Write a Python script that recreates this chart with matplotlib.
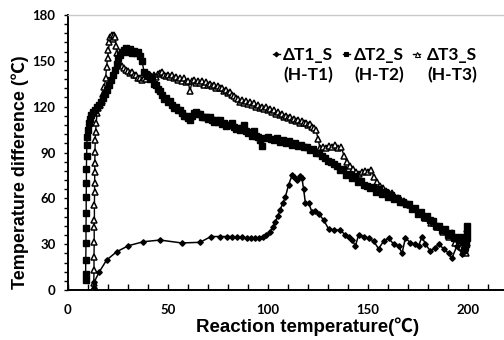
import matplotlib
matplotlib.use("Agg")
import matplotlib.pyplot as plt
from matplotlib.ticker import MultipleLocator
from matplotlib.lines import Line2D

# ---------------- data ----------------
legend_top = ["ΔT1_S", "ΔT2_S", "ΔT3_S"]
legend_bottom = ["(H-T1)", "(H-T2)", "(H-T3)"]
x_label = "Reaction temperature(℃)"
y_label = "Temperature difference (℃)"
x_ticks = [0, 50, 100, 150, 200]
y_ticks = [0, 30, 60, 90, 120, 150, 180]

t1_x = [12.8, 13.2, 15.7, 19.3, 24.3, 30.2, 37.7, 46.0, 56.8, 66.0,
        71.5, 76.0, 79.3, 82.2, 84.7, 87.2, 89.3, 91.3, 93.5, 95.5,
        97.5, 99.0, 101.0, 102.5, 103.7, 105.0, 106.0, 107.5, 108.7, 110.3,
        112.0, 113.2, 114.5, 115.8, 117.0, 117.8, 118.7, 120.3, 122.0, 123.7,
        125.3, 127.8, 130.3, 132.8, 136.0, 138.7, 140.5, 142.0, 143.7, 145.3,
        147.8, 150.3, 152.8, 155.3, 157.8, 160.3, 162.8, 165.3, 167.0, 168.7,
        171.2, 173.7, 175.3, 177.0, 178.7, 181.2, 183.7, 185.3, 187.8, 190.3,
        192.0, 194.5, 197.0, 198.7]
t1_y = [1.0, 5.5, 12.0, 19.6, 25.0, 29.0, 31.6, 32.7, 30.8, 31.2,
        35.0, 35.0, 35.0, 35.0, 34.7, 34.5, 34.0, 34.0, 34.0, 34.2,
        35.0, 36.0, 38.0, 41.0, 44.7, 48.5, 52.4, 57.0, 61.0, 68.8,
        75.0, 74.0, 72.0, 74.5, 73.0, 66.0, 57.0, 57.0, 51.0, 52.0,
        50.0, 45.8, 40.0, 39.3, 39.3, 36.0, 34.5, 33.0, 28.8, 36.0,
        35.0, 34.0, 32.0, 27.0, 32.0, 34.0, 30.0, 29.0, 24.0, 34.0,
        31.0, 30.0, 28.8, 35.0, 30.0, 25.5, 27.8, 30.0, 27.0, 24.0,
        21.0, 29.0, 23.5, 26.0]

t2_x = [8.8, 8.8, 8.9, 9.0, 9.0, 9.1, 9.1, 9.2, 9.2, 9.3, 9.4, 9.6, 10.0, 10.5,
        11.0, 11.7, 12.5, 13.5, 14.5, 15.5, 16.5, 17.5, 18.5, 19.5, 20.5, 21.5,
        22.5, 23.5, 24.3,
        25, 26, 27, 28, 29, 30, 31, 32, 33, 34, 35, 36, 37, 38, 39, 40, 41, 42,
        43, 44, 45, 46, 47, 48, 49, 50, 51, 52, 53, 54, 55, 56, 57, 58, 59, 60,
        61, 62, 63, 64, 65, 66, 67, 68, 69, 70, 71, 72, 73, 74, 75, 76, 77, 78,
        79, 80, 81, 82, 83, 84, 85, 86, 87, 88, 89, 90, 91, 92, 93, 94, 95, 96,
        97, 98.5, 100, 101.5, 103, 104.5, 106, 107.5, 109, 110.5, 112, 113.5,
        115, 116.5, 118, 119.5, 121, 122.5, 124, 125.5, 127, 128.5, 130, 131.5,
        133, 134.5, 136, 137.5, 139, 140.5, 142, 143.5, 145, 146.5, 148, 149.5,
        151, 152.5, 154, 155.5, 157, 158.5, 160, 161.5, 163, 164.5, 166, 167.5,
        169, 170.5, 172, 173.5, 175, 176.5, 178, 179.5, 181, 182.5, 184, 185.5,
        187, 188.5, 190, 191.5, 193, 194.5, 196, 197.5, 199,
        199.5, 198.0, 199.5, 198.5, 199.5]
t2_y = [6.5, 10.5, 19.6, 30.6, 40.8, 50.6, 61.0, 70.0, 79.0, 88.0, 95.0, 100.0,
        105.0, 109.0, 112.0, 114.5, 116.5, 118.0, 119.5, 121.0, 123.0, 125.5,
        128.0, 131.0, 134.0, 137.5, 140.5, 144.0, 148.0,
        152, 154, 155.5, 157, 158.5, 156, 157.5, 155, 156.5, 155, 156, 153, 150,
        143, 141.5, 140, 138, 139.5, 135, 134, 131.5, 130, 127.5, 125, 125.5,
        123, 123.5, 121, 119, 120, 118, 118, 116, 114, 114, 112.5, 111.5, 114,
        116, 116.8, 115, 115, 113.5, 113, 113.5, 112, 113, 111, 110, 111, 110,
        111, 108.5, 109.5, 107.5, 108, 108, 109.5, 107, 105.5, 106, 104.5, 106,
        108, 104, 103, 103.7, 100.5, 104, 101, 100, 98,
        94, 99.5, 100.4, 99, 98.5, 99.2, 97, 98.5, 96, 97.5, 95, 96.5, 94.5, 95,
        93.5, 93.8, 91.5, 92, 89.5, 90, 88, 86.5, 84.5, 84, 82.5, 81, 78.6, 79,
        75.5, 76, 73, 74.5, 70.5, 71.5, 69, 68, 66.6, 67.5, 64, 66, 63, 64, 61,
        62, 59.5, 60, 57.8, 57.5, 56, 56, 53, 53.5, 50, 51, 47.5, 48.5, 45.8,
        45, 42, 42, 39, 40, 36, 37, 34, 35, 32.7, 34.5, 30,
        38, 26, 42, 28, 34]

t3_x = [12.8, 12.9, 13.0, 13.0, 13.1, 13.1, 13.2, 13.2, 13.3, 13.3, 13.4, 13.4,
        13.5, 13.6, 13.8, 14.1, 14.5, 15.2, 16.0, 16.8, 17.5, 18.2, 18.8, 19.3,
        19.8, 20.2, 20.7, 21.2, 21.8, 22.4, 23.0, 23.5, 24.0, 24.4, 25.2,
        26, 27, 28, 29, 30, 31, 32, 33, 34, 35, 36, 37, 38, 39, 40, 41, 42, 43,
        44, 45, 46, 47, 48, 49, 50, 51, 52, 53, 54, 55, 56, 57, 58, 59, 60, 61,
        62, 63, 64, 65, 66, 67, 68, 69, 70, 71, 72, 73, 74, 75, 76, 77, 78, 79,
        80, 81, 82, 83, 84, 85, 86, 87, 88, 89, 90, 91, 92, 93, 94, 95, 96, 97,
        98, 99, 100, 101, 102, 103, 104, 105, 106, 107, 108, 109, 110, 111, 112,
        113, 114, 115, 116, 117, 118, 119, 120, 121, 122, 123, 124,
        125, 126, 127.5, 129, 130.5, 132, 133.5, 135, 136.5, 138, 139.5, 141,
        142.5, 144, 145.5, 147, 148.5, 150, 151.5, 153, 154.5, 156, 157.5, 159,
        160.5, 162, 163.5, 165, 166.5, 168, 169.5, 171, 172.5, 174, 175.5, 177,
        178.5, 180, 181.5, 183, 184.5, 186, 187.5, 189, 190.5, 192, 193.5, 195,
        196.5, 198, 199,
        199.5, 198.5, 199.5]
t3_y = [1.0, 4.4, 13.0, 21.8, 31.6, 41.5, 45.8, 55.7, 64.4, 69.9, 77.5, 83.0,
        90.6, 98.0, 103.7, 109.0, 115.7, 119.0, 121.0, 124.0, 128.0, 133.0,
        139.0, 146.0, 152.0, 157.0, 162.0, 165.5, 167.0, 164.5, 167.0, 165.5,
        160.0, 155.0, 150.0,
        148, 146.5, 145, 144, 143.5, 142, 142.5, 141, 140.5, 139, 138.5, 137.5,
        139, 138, 140.5, 141, 139, 140.5, 139.5, 141.5, 142, 143, 141, 140, 141,
        139.7, 141, 138.5, 139.5, 137.5, 139, 136.5, 138.6, 136, 137, 130, 136.5,
        137.5, 135.5, 137, 135.5, 136.5, 134.5, 136, 134, 135, 133.5, 134.5,
        132.5, 133.5, 132, 132.5, 130.5, 131, 129, 129.5, 127.5, 127, 125.5, 125,
        123.3, 124.5, 122.5, 123.5, 121.5, 123, 121, 122.2, 120, 121, 119, 120,
        118.5, 119.5, 117.5, 118.5, 116.5, 117.5, 115.5, 116.5, 114.5, 115,
        113.5, 114, 112.5, 113, 111, 112, 110.5, 111.5, 109.5, 110.5, 109,
        109.5, 108, 108.5, 107, 106, 104.8,
        99, 92.8, 93.8, 93, 94.5, 93.5, 95, 93, 93.8, 88, 84, 81, 79, 77.5, 76,
        77.5, 78, 77, 78.6, 74.2, 71, 68, 67, 65, 63.5, 63.5, 61, 60.5, 59, 58,
        56.5, 55.5, 53, 53, 50.5, 49.5, 47, 47, 44, 44, 41, 41.5, 38, 38.5, 35,
        37, 31, 34, 28, 33, 24,
        40, 27, 31]

# ---------------- figure ----------------
fig = plt.figure(figsize=(5.04, 3.40), dpi=100)
ax = fig.add_axes([68 / 504, 50 / 340, 440 / 504, 275 / 340])

ax.plot(t3_x, t3_y, color="black", lw=1.0, marker="^", ms=5.0,
        mfc="white", mec="black", mew=1.1, zorder=3)
ax.plot(t2_x, t2_y, color="black", lw=1.0, marker="s", ms=4.2,
        mfc="black", mec="black", zorder=4)
ax.plot(t1_x, t1_y, color="black", lw=1.1, marker="D", ms=2.8,
        mfc="black", mec="black", zorder=5)

ax.set_xlim(0, 220)
ax.set_ylim(0, 180)
ax.set_xticks(x_ticks)
ax.set_yticks(y_ticks)
ax.xaxis.set_minor_locator(MultipleLocator(10))
ax.yaxis.set_minor_locator(MultipleLocator(6))

tick_font = dict(family=["Lato", "DejaVu Sans"], weight="bold", size=9.5)
ax.set_xticklabels([str(v) for v in x_ticks], fontdict=tick_font)
ax.set_yticklabels([str(v) for v in y_ticks], fontdict=tick_font)
ax.tick_params(axis="x", which="both", direction="in", length=4, width=1.0, pad=10)
ax.tick_params(axis="y", which="both", direction="out", length=3, width=1.0, pad=6)

for s in ["left", "bottom"]:
    ax.spines[s].set_linewidth(1.4)
    ax.spines[s].set_color("black")
ax.spines["top"].set_color("#c8c8c8")
ax.spines["top"].set_linewidth(1.0)
ax.spines["right"].set_visible(False)

label_font = dict(family=["Liberation Sans", "Noto Sans CJK SC"], weight="bold", size=13.5)
ax.set_xlabel(x_label, fontdict=label_font)
ax.set_ylabel(y_label, fontdict=dict(label_font, size=13))
ax.xaxis.set_label_coords(0.545, -0.1)
ax.yaxis.set_label_coords(-0.088, 0.43)

# legend (two-line labels with handle on first line)
handle_x = [(0.465, 0.482), (0.624, 0.640), (0.785, 0.801)]
text_right = [0.602, 0.763, 0.93]
markers = [("D", 2.4, "black"), ("s", 3.2, "black"), ("^", 3.6, "white")]
for i in range(3):
    m, ms, fc = markers[i]
    ax.add_line(Line2D(list(handle_x[i]), [0.858, 0.858], transform=ax.transAxes,
                       color="black", lw=1.0))
    ax.add_line(Line2D([sum(handle_x[i]) / 2], [0.858], transform=ax.transAxes,
                       color="black", marker=m, ms=ms, mfc=fc, mec="black", mew=0.8))
    ax.text(text_right[i], 0.885, legend_top[i] + "\n" + legend_bottom[i],
            transform=ax.transAxes, ha="right", va="top", multialignment="right",
            fontsize=12.5, family=["Lato", "DejaVu Sans"], weight="bold",
            linespacing=1.3)

fig.savefig("out.png", dpi=100)
